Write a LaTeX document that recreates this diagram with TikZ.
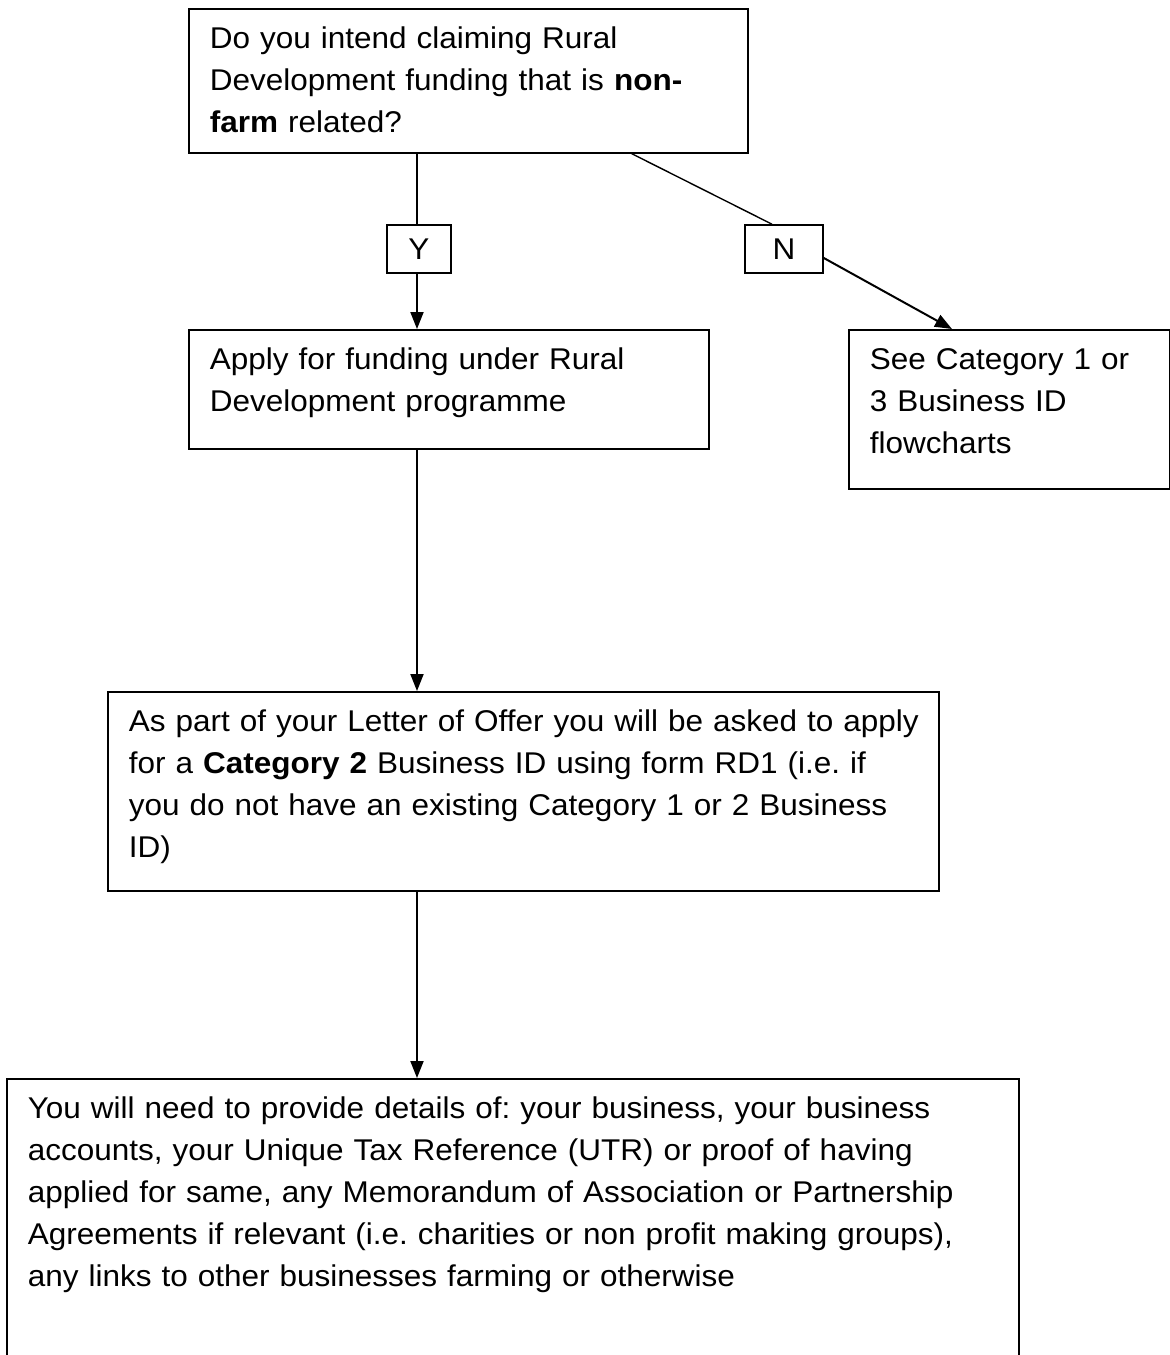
\documentclass[tikz,border=0pt]{standalone}
\usepackage{fontspec}
\setmainfont{Liberation Sans}[FakeStretch=1.05]
\usetikzlibrary{arrows.meta}
\begin{document}
\begin{tikzpicture}[x=1pt,y=-1pt,
  every node/.style={font=\fontsize{30}{42}\selectfont},
  box/.style={draw,line width=1.6pt,anchor=north west,align=left,
    inner xsep=21pt,inner ysep=0pt,text height=40pt,
    execute at begin node={\frenchspacing\hyphenpenalty=10000\exhyphenpenalty=10000}},
  yn/.style={draw,line width=1.6pt,inner sep=0pt,minimum height=48pt},
  link/.style={line width=1.4pt},
  flow/.style={line width=2pt,-{Triangle[length=17pt,width=13pt]}}]
 \useasboundingbox (0,0) rectangle (1170,1355);
 \coordinate (spine) at (417,0);
 % boxes
 \node[box,text width=517pt,text depth=104pt] (q) at (188,8)
   {Do you intend claiming Rural\\ Development funding that is \textbf{non-}\\ \textbf{farm} related?};
 \node[yn,minimum width=64pt] (yes) at (419,249) {Y};
 \node[yn,minimum width=78pt] (no) at (784,249) {N};
 \node[box,text width=478pt,text depth=79pt] (apply) at (188,329)
   {Apply for funding under Rural\\ Development programme};
 \node[box,text width=279pt,text depth=119pt] (see) at (848,329)
   {See Category 1 or\\ 3 Business ID\\ flowcharts};
 \node[box,text width=789pt,text depth=159pt] (offer) at (107,691)
   {\mbox{As part of your Letter of Offer you will be asked to apply}\\ for a \textbf{Category 2} Business ID using form RD1 (i.e. if\\ you do not have an existing Category 1 or 2 Business\\ ID)};
 \node[box,text width=970pt,text depth=262pt] (details) at (6,1078)
   {You will need to provide details of: your business, your business\\ accounts, your Unique Tax Reference (UTR) or proof of having\\ applied for same, any Memorandum of Association or Partnership\\ Agreements if relevant (i.e. charities or non profit making groups),\\ any links to other businesses farming or otherwise};
 % connectors
 \draw[link] (spine |- q.south) -- (spine |- yes.north);
 \draw[link] ([xshift=-117pt]q.south east) -- ([xshift=-12pt]no.north);
 \draw[flow] (spine |- yes.south) -- (spine |- apply.north);
 \draw[flow] ([yshift=-9pt]no.east) -- ([xshift=104pt]see.north west);
 \draw[flow] (spine |- apply.south) -- (spine |- offer.north);
 \draw[flow] (spine |- offer.south) -- (spine |- details.north);
\end{tikzpicture}
\end{document}
